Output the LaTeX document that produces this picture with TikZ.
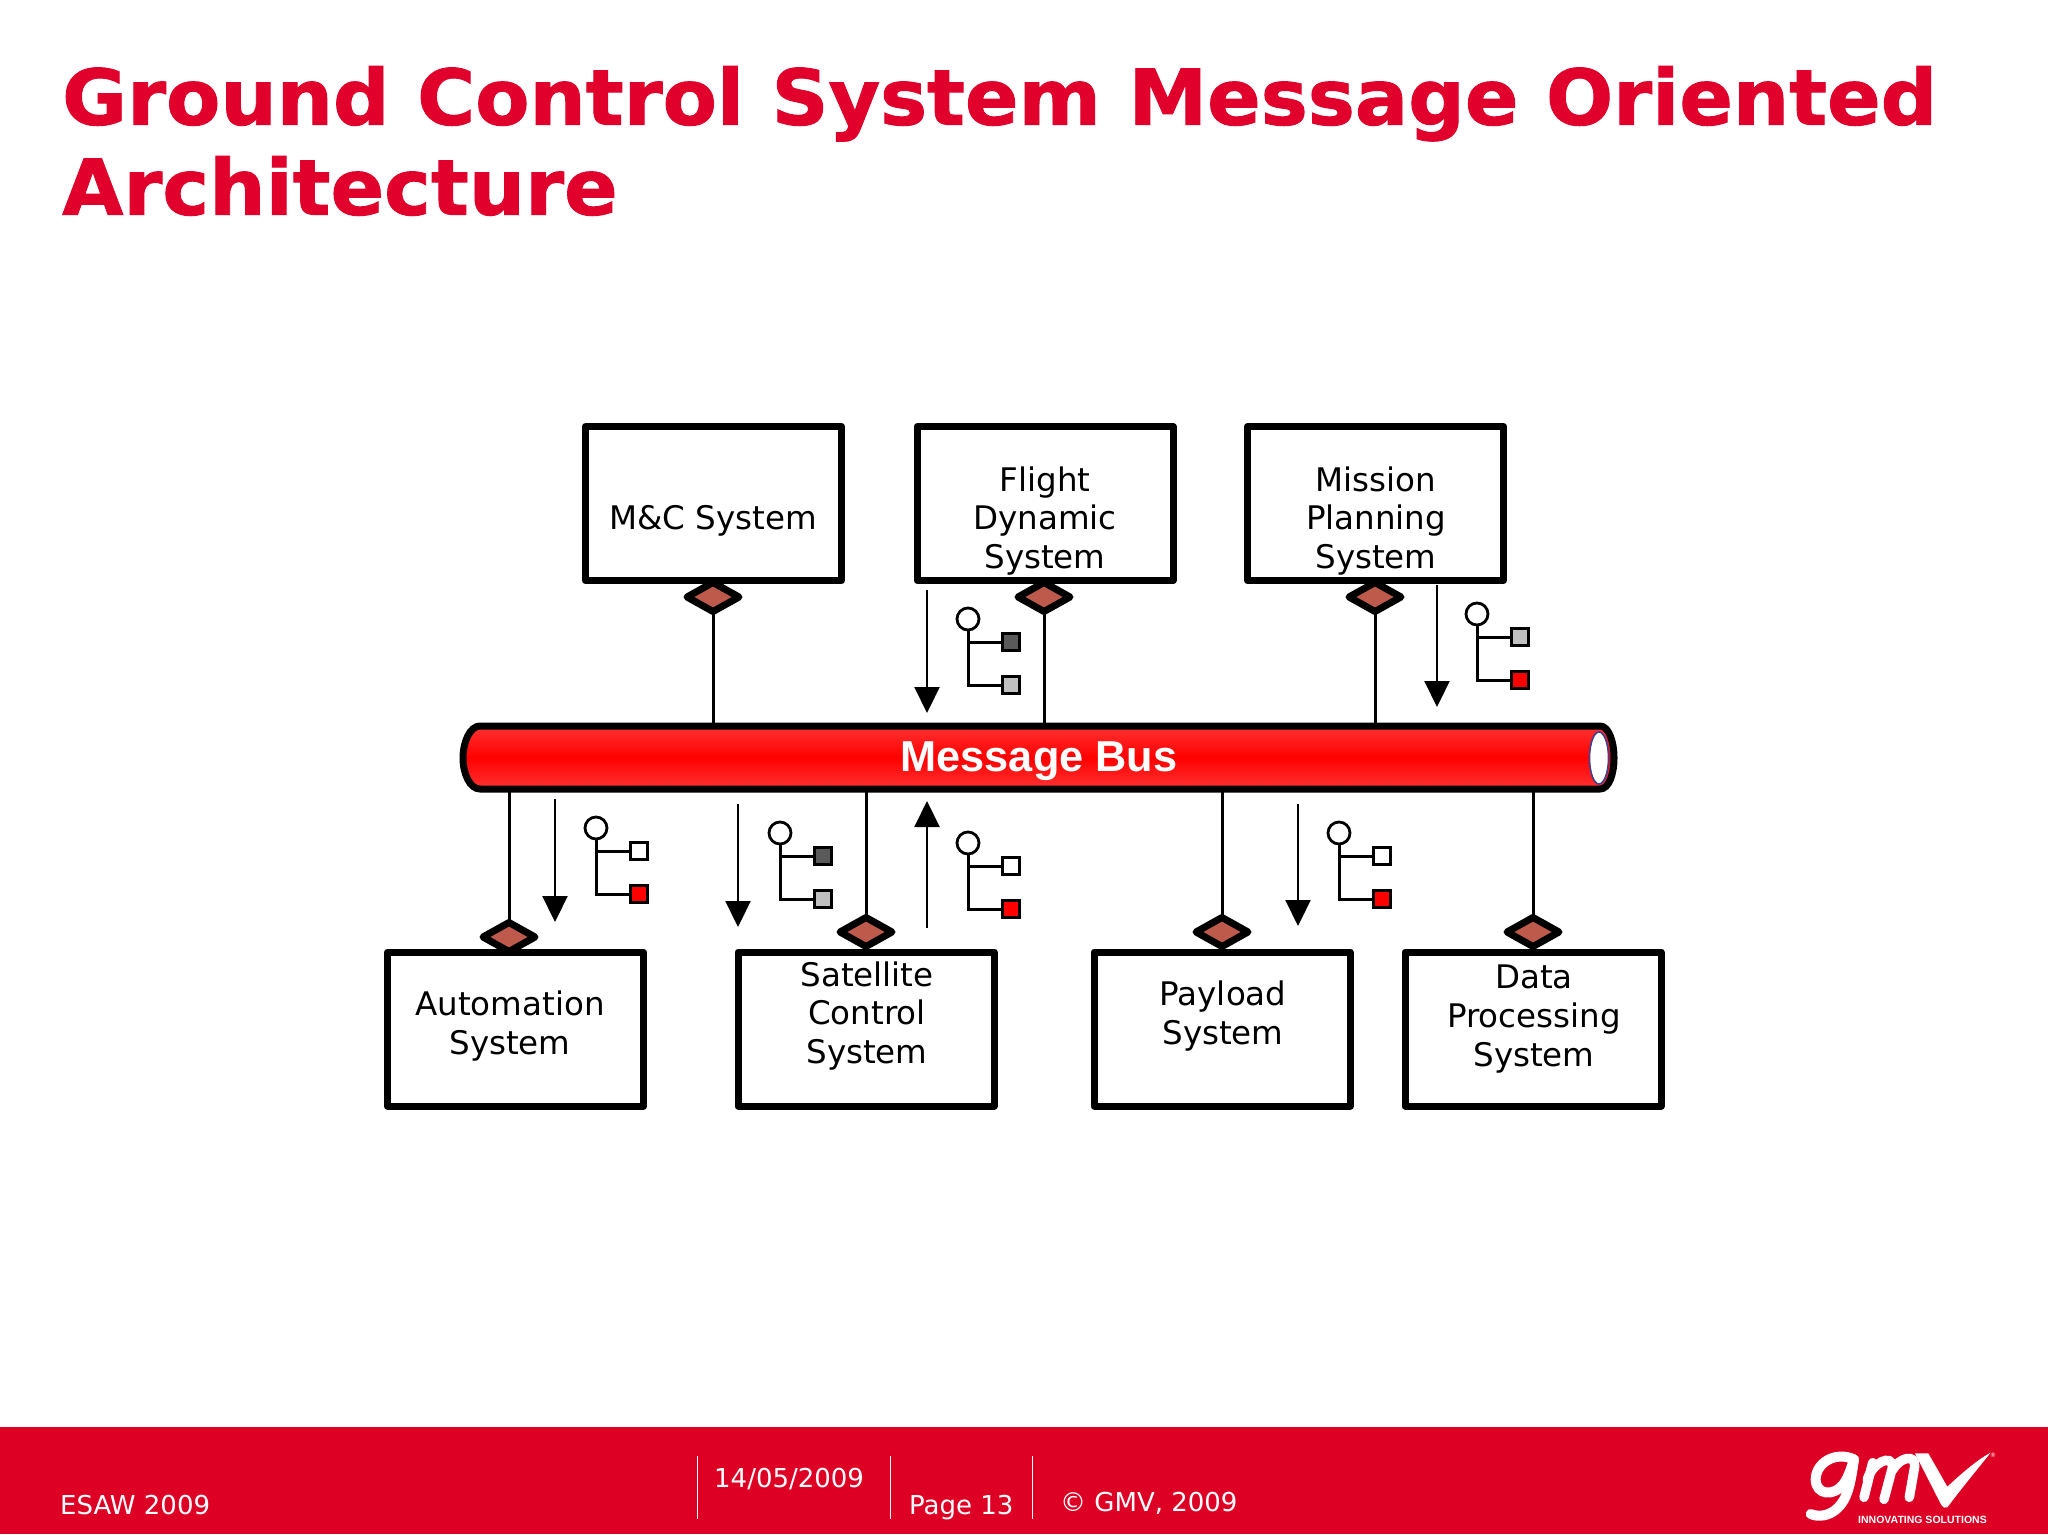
\documentclass[tikz,border=0pt]{standalone}
\usepackage{fontspec}
\setmainfont{DejaVu Sans}
\newfontfamily\busfont{Liberation Sans}
\newfontfamily\titlefont[FakeStretch=1.027,FakeBold=1.2]{DejaVu Sans Bold}
\usetikzlibrary{shapes.geometric,arrows.meta}
\definecolor{gmvred}{HTML}{DE0024}
\definecolor{titlered}{HTML}{E0002B}
\definecolor{dmdfill}{HTML}{BE5A4C}
\definecolor{sqdark}{HTML}{5A5A5A}
\definecolor{sqgray}{HTML}{C0C0C0}
\definecolor{ringblue}{HTML}{3F3F8F}
\tikzset{
  sysbox/.style={draw=black,fill=white,line width=7pt,minimum width=256pt,minimum height=154pt,inner sep=0pt,outer sep=0pt,line join=round},
  systext/.style={font=\fontsize{32.5}{38.7}\selectfont,align=center,inner sep=0pt,text=black},
  port/.style={diamond,draw=black,fill=dmdfill,line width=7pt,minimum width=52pt,minimum height=29pt,inner sep=0pt,outer sep=0pt,line join=round},
  conn/.style={draw=black,line width=3pt},
  flow/.style={draw=black,line width=2.2pt,-{Triangle[width=25pt,length=26pt]}},
  icoline/.style={draw=black,line width=3pt},
  icocirc/.style={circle,draw=black,fill=white,line width=2.8pt,minimum size=22pt,inner sep=0pt,outer sep=0pt},
  icosq/.style={rectangle,draw=black,line width=2.4pt,minimum size=17pt,inner sep=0pt,outer sep=0pt},
  foot/.style={text=white,font=\fontsize{26}{30}\selectfont,anchor=base west,inner sep=0pt},
  footline/.style={draw=white,line width=1pt}
}
\newcommand{\treeicon}[5]{% name, x, y, colour 1, colour 2
  \node[icocirc] (#1c) at (#2,#3) {};
  \node[icosq,fill=#4] (#1a) at (#2+43,#3+23) {};
  \node[icosq,fill=#5] (#1b) at (#2+43,#3+66) {};
  \draw[icoline] (#1c.south) -- (#1c.south |- #1b.west) -- (#1b.west);
  \draw[icoline] (#1c.south |- #1a.west) -- (#1a.west);
}
\begin{document}
\begin{tikzpicture}[x=1pt,y=-1pt]
\useasboundingbox (0,0) rectangle (2048,1534);
\fill[white] (0,0) rectangle (2048,1534);
% title
\node[anchor=north west,inner sep=0pt,text=titlered,align=left,font=\fontsize{77}{90}\titlefont] (title) at (62,66) {Ground Control System Message Oriented\\Architecture};
% bus
\path[draw=black,line width=7pt,top color=red!80!white,bottom color=red!80!white,middle color=red]
  (480,726) -- (1600,726) .. controls (1609,726) and (1614,742) .. (1614,758) .. controls (1614,774) and (1609,789) .. (1600,789) -- (480,789) .. controls (470,789) and (463,774) .. (463,758) .. controls (463,742) and (470,726) .. (480,726) -- cycle;
\draw[ringblue,fill=white,line width=1.6pt] (1599,758) ellipse [x radius=9.5,y radius=26];
\node[minimum width=1157pt,minimum height=69pt,inner sep=0pt,outer sep=0pt] (bus) at (1039,757.5) {};
\node[text=white,inner sep=0pt,font=\busfont\fontsize{43.3}{46}\selectfont\bfseries] (bust) at (1039,761) {Message Bus};
% ports
\node[port] (pmc) at (713,597) {};
\node[port] (pfd) at (1044,597) {};
\node[port] (pmp) at (1375,597) {};
\node[port] (pau) at (509,937) {};
\node[port] (psc) at (866,932) {};
\node[port] (ppl) at (1222,932) {};
\node[port] (pdp) at (1533,932) {};
% boxes
\node[sysbox] (mc) at (713.5,503.5) {};
\node[sysbox] (fd) at (1045,503.5) {};
\node[sysbox] (mp) at (1375.5,503.5) {};
\node[sysbox] (au) at (515.5,1029) {};
\node[sysbox] (sc) at (866,1029) {};
\node[sysbox] (pl) at (1222,1029) {};
\node[sysbox] (dp) at (1533,1029) {};
\node[systext] (mct) at (713,521) {M\&C System};
\node[systext] (fdt) at (1045,521) {Flight\\Dynamic\\System};
\node[systext] (mpt) at (1376,521) {Mission\\Planning\\System};
\node[systext] (aut) at (510,1026) {Automation\\System};
\node[systext] (sct) at (867,1016) {Satellite\\Control\\System};
\node[systext] (plt) at (1223,1016) {Payload\\System};
\node[systext] (dpt) at (1534,1019) {Data\\Processing\\System};
% connectors
\draw[conn] (pmc.south) -- (pmc.south |- bus.north);
\draw[conn] (pfd.south) -- (pfd.south |- bus.north);
\draw[conn] (pmp.south) -- (pmp.south |- bus.north);
\draw[conn] (pau.north) -- (pau.north |- bus.south);
\draw[conn] (psc.north) -- (psc.north |- bus.south);
\draw[conn] (ppl.north) -- (ppl.north |- bus.south);
\draw[conn] (pdp.north) -- (pdp.north |- bus.south);
% flows
\coordinate (f1a) at (927,590); \coordinate (f1b) at (927,713);
\draw[flow] (f1a) -- (f1b);
\coordinate (f2a) at (1437,585); \coordinate (f2b) at (1437,707);
\draw[flow] (f2a) -- (f2b);
\coordinate (f3a) at (555,799); \coordinate (f3b) at (555,922);
\draw[flow] (f3a) -- (f3b);
\coordinate (f4a) at (738,804); \coordinate (f4b) at (738,927);
\draw[flow] (f4a) -- (f4b);
\coordinate (f5a) at (927,928); \coordinate (f5b) at (927,801);
\draw[flow] (f5a) -- (f5b);
\coordinate (f6a) at (1298,804); \coordinate (f6b) at (1298,926);
\draw[flow] (f6a) -- (f6b);
% tree icons
\treeicon{ia}{596}{828}{white}{red}
\treeicon{ib}{780}{833}{sqdark}{sqgray}
\treeicon{ic}{968}{843}{white}{red}
\treeicon{id}{1339}{833}{white}{red}
\treeicon{ie}{968}{619}{sqdark}{sqgray}
\treeicon{ig}{1477}{614}{sqgray}{red}
% footer
\fill[gmvred] (0,1427) rectangle (2048,1534);
\node[foot] (fesaw) at (60,1514) {ESAW 2009};
\node[foot] (fdate) at (714,1487) {14/05/2009};
\node[foot] (fpage) at (909,1514) {Page 13};
\node[foot] (fcopy) at (1060,1511) {© GMV, 2009};
\draw[footline] (697,1456) -- (697,1519);
\draw[footline] (890,1456) -- (890,1519);
\draw[footline] (1032,1456) -- (1032,1519);
% logo
\begin{scope}[shift={(1750,1420)},x=0.3333pt,y=-0.3333pt]
\draw[white,line width=10pt,line cap=round,line join=round] (312,118) .. controls (255,92) and (197,130) .. (197,178) .. controls (197,225) and (252,232) .. (282,190) .. controls (296,170) and (305,140) .. (312,118);
\draw[white,line width=10pt,line cap=round] (312,118) .. controls (302,190) and (292,238) .. (262,265) .. controls (238,288) and (205,292) .. (182,282);
\draw[white,line width=9.5pt,line cap=round] (368,128) -- (342,232);
\draw[white,line width=9.5pt,line cap=round] (352,178) .. controls (368,128) and (425,100) .. (428,140) -- (402,238);
\draw[white,line width=9.5pt,line cap=round] (428,150) .. controls (448,112) and (498,100) .. (494,140) -- (478,232);
\fill[white] (495,100) -- (535,100) -- (592,200) .. controls (630,165) and (680,120) .. (722,98) .. controls (680,150) and (635,205) .. (592,262) .. controls (585,266) and (578,262) .. (574,255) -- cycle;
\end{scope}
\node[anchor=base west,inner sep=0pt,text=white,font=\busfont\fontsize{10.5}{12}\selectfont\bfseries] (lgt) at (1858,1523) {INNOVATING SOLUTIONS};
\node[inner sep=0pt,text=white,font=\fontsize{6}{7}\selectfont] (lgr) at (1993,1455) {®};
\end{tikzpicture}
\end{document}
